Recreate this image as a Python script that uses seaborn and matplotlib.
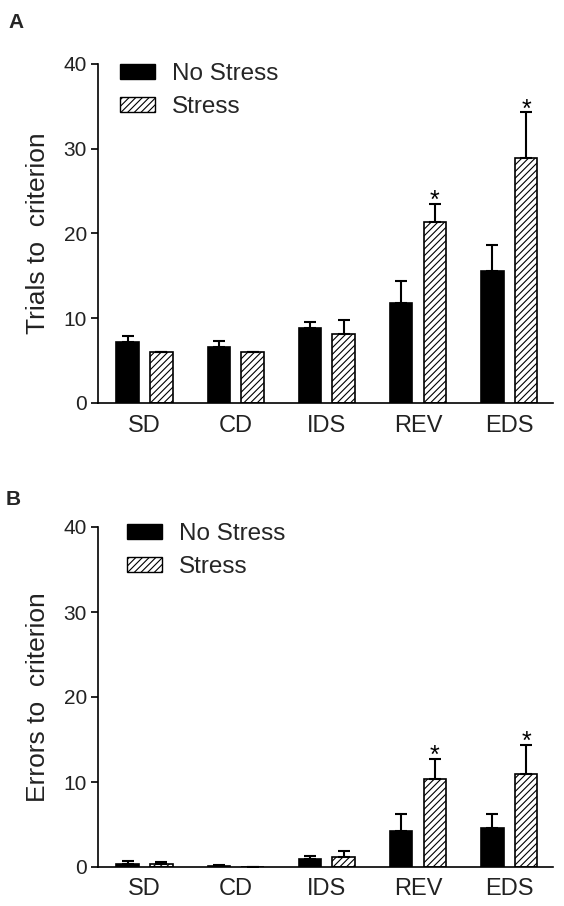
import matplotlib
matplotlib.use("Agg")
import matplotlib.pyplot as plt
from matplotlib.patches import Patch
import seaborn as sns
import pandas as pd

categories = ["SD", "CD", "IDS", "REV", "EDS"]
groups = ["No Stress", "Stress"]

trials_nostress = [7.2, 6.6, 8.9, 11.8, 15.6]
trials_nostress_err = [0.7, 0.7, 0.7, 2.6, 3.1]
trials_stress = [6.0, 6.0, 8.1, 21.4, 28.9]
trials_stress_err = [0.0, 0.0, 1.7, 2.1, 5.4]
trials_sig = [False, False, False, True, True]

errors_nostress = [0.4, 0.15, 1.0, 4.2, 4.6]
errors_nostress_err = [0.35, 0.1, 0.35, 2.0, 1.6]
errors_stress = [0.4, 0.0, 1.2, 10.3, 11.0]
errors_stress_err = [0.2, 0.0, 0.7, 2.4, 3.4]
errors_sig = [False, False, False, True, True]

yticks = [0, 10, 20, 30, 40]

sns.set_style("ticks")
plt.rcParams["font.family"] = ["Liberation Sans", "DejaVu Sans"]
plt.rcParams["hatch.linewidth"] = 0.8
plt.rcParams["hatch.color"] = "black"

fig = plt.figure(figsize=(5.64, 9.06), dpi=100)
axA = fig.add_axes([98 / 564, 1 - 403 / 906, 455 / 564, 339 / 906])
axB = fig.add_axes([98 / 564, 1 - 867 / 906, 455 / 564, 340 / 906])


def draw(ax, ns, ns_err, st, st_err, sig, ylabel, leg_anchor, xpad):
    df = pd.DataFrame({
        "category": categories * 2,
        "group": [groups[0]] * len(categories) + [groups[1]] * len(categories),
        "value": list(ns) + list(st),
    })
    sns.barplot(data=df, x="category", y="value", hue="group",
                order=categories, hue_order=groups,
                palette={"No Stress": "black", "Stress": "white"},
                width=0.74, gap=0.33, errorbar=None,
                edgecolor="black", linewidth=1.2, ax=ax, legend=False)
    cont_ns, cont_st = ax.containers[0], ax.containers[1]
    for bar in cont_st:
        bar.set_hatch("/////")
    for cont, errs in ((cont_ns, ns_err), (cont_st, st_err)):
        xs = [b.get_x() + b.get_width() / 2 for b in cont]
        hs = [b.get_height() for b in cont]
        ax.errorbar(xs, hs, yerr=[[0] * len(errs), errs], fmt="none",
                    ecolor="black", elinewidth=1.5, capsize=4.5, capthick=1.5,
                    zorder=1)
    for b, e, s in zip(cont_st, st_err, sig):
        if s:
            ax.text(b.get_x() + b.get_width() / 2, b.get_height() + e - 0.5, "*",
                    ha="center", va="baseline", fontsize=18, color="black")
    ax.set_ylim(0, 40)
    ax.set_xlim(-0.51, 4.48)
    ax.set_yticks(yticks)
    ax.set_ylabel(ylabel, fontsize=19, labelpad=10, color="#222222")
    ax.set_xlabel("")
    sns.despine(ax=ax)
    for sp in ("left", "bottom"):
        ax.spines[sp].set_linewidth(1.2)
        ax.spines[sp].set_color("black")
    ax.tick_params(axis="y", length=5, width=1.2, labelsize=15, pad=3,
                   colors="black", labelcolor="#222222")
    ax.tick_params(axis="x", length=0, labelsize=17, pad=xpad,
                   labelcolor="#222222")
    handles = [Patch(facecolor="black", edgecolor="black", label=groups[0]),
               Patch(facecolor="white", edgecolor="black", hatch="/////",
                     label=groups[1])]
    ax.legend(handles=handles, loc="upper left", bbox_to_anchor=leg_anchor,
              frameon=False, fontsize=17.5, handlelength=1.45, handleheight=0.6,
              handletextpad=0.7, labelspacing=0.45, borderpad=0,
              borderaxespad=0)


draw(axA, trials_nostress, trials_nostress_err, trials_stress, trials_stress_err,
     trials_sig, "Trials to  criterion", (0.048, 1.003), 9)
draw(axB, errors_nostress, errors_nostress_err, errors_stress, errors_stress_err,
     errors_sig, "Errors to  criterion", (0.064, 1.011), 8)

fig.text(8 / 564, 1 - 28 / 906, "A", fontsize=15, fontweight="bold")
fig.text(6 / 564, 1 - 505 / 906, "B", fontsize=15, fontweight="bold")

fig.savefig("out.png", dpi=100)
